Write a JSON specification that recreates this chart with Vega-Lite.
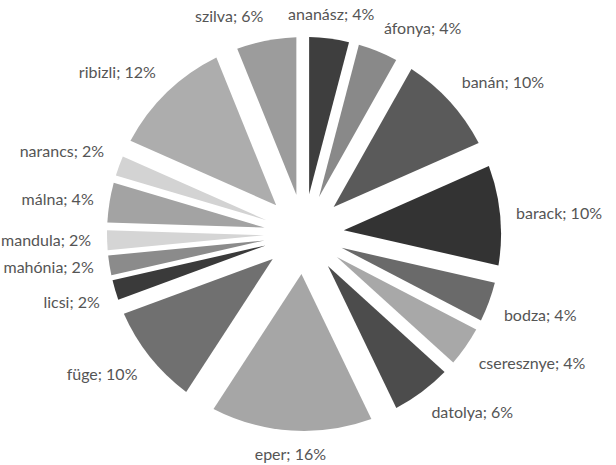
{
  "$schema": "https://vega.github.io/schema/vega-lite/v6.json",
  "width": 608,
  "height": 462,
  "autosize": {"type": "none"},
  "padding": {"left": 0, "top": 3, "right": 8, "bottom": 0},
  "background": "white",
  "view": {"stroke": null},
  "data": {
    "values": [
      {"n": 1, "fruit": "ananász", "value": 4, "label": "ananász; 4%"},
      {"n": 2, "fruit": "áfonya", "value": 4, "label": "áfonya; 4%"},
      {"n": 3, "fruit": "banán", "value": 10, "label": "banán; 10%"},
      {"n": 4, "fruit": "barack", "value": 10, "label": "barack; 10%"},
      {"n": 5, "fruit": "bodza", "value": 4, "label": "bodza; 4%"},
      {"n": 6, "fruit": "cseresznye", "value": 4, "label": "cseresznye; 4%"},
      {"n": 7, "fruit": "datolya", "value": 6, "label": "datolya; 6%"},
      {"n": 8, "fruit": "eper", "value": 16, "label": "eper; 16%"},
      {"n": 9, "fruit": "füge", "value": 10, "label": "füge; 10%"},
      {"n": 10, "fruit": "licsi", "value": 2, "label": "licsi; 2%"},
      {"n": 11, "fruit": "mahónia", "value": 2, "label": "mahónia; 2%"},
      {"n": 12, "fruit": "mandula", "value": 2, "label": "mandula; 2%"},
      {"n": 13, "fruit": "málna", "value": 4, "label": "málna; 4%"},
      {"n": 14, "fruit": "narancs", "value": 2, "label": "narancs; 2%"},
      {"n": 15, "fruit": "ribizli", "value": 12, "label": "ribizli; 12%"},
      {"n": 16, "fruit": "szilva", "value": 6, "label": "szilva; 6%"}
    ]
  },
  "encoding": {
    "theta": {"field": "value", "type": "quantitative", "stack": true},
    "order": {"field": "n", "type": "quantitative"}
  },
  "layer": [
    {
      "mark": {
        "type": "arc",
        "outerRadius": 197,
        "innerRadius": 40,
        "padAngle": {"expr": "2*asin(40*sin(PI*datum.value/98)/sqrt(40*40+197*197))"}
      },
      "encoding": {
        "color": {
          "field": "fruit",
          "type": "nominal",
          "legend": null,
          "scale": {
            "domain": ["ananász", "áfonya", "banán", "barack", "bodza", "cseresznye", "datolya", "eper", "füge", "licsi", "mahónia", "mandula", "málna", "narancs", "ribizli", "szilva"],
            "range": ["#3e3e3e", "#898989", "#5a5a5a", "#333333", "#6a6a6a", "#a8a8a8", "#4c4c4c", "#a6a6a6", "#707070", "#3a3a3a", "#8b8b8b", "#d5d5d5", "#a3a3a3", "#d3d3d3", "#adadad", "#9c9c9c"]
          }
        }
      }
    },
    {
      "mark": {
        "type": "text",
        "radius": 213,
        "font": "Lato",
        "fontSize": 16,
        "fill": "#555555",
        "align": {"expr": "sin(PI*(datum.value_start+datum.value_end)/98) > 0.15 ? 'left' : (sin(PI*(datum.value_start+datum.value_end)/98) < -0.15 ? 'right' : 'center')"},
        "baseline": {"expr": "cos(PI*(datum.value_start+datum.value_end)/98) > 0.25 ? 'bottom' : (cos(PI*(datum.value_start+datum.value_end)/98) < -0.25 ? 'top' : 'middle')"}
      },
      "encoding": {
        "text": {"field": "label", "type": "nominal"}
      }
    }
  ]
}
